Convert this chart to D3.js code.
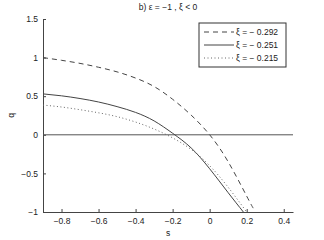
<!DOCTYPE html>
<html lang="en">
<head>
    <meta charset="UTF-8">
    <title>b) ε = −1 , ξ &lt; 0</title>
    <script src="https://d3js.org/d3.v7.min.js"></script>
    <style>
        body { margin: 0; background: #fff; font-family: "Liberation Sans", Arial, sans-serif; }
        svg { display: block; }
        .tick text { font-size: 8.5px; fill: #222; }
    </style>
</head>
<body>
    <svg width="324" height="240"></svg>

    <script>
        // series
        const sDashed = [-0.9, -0.8, -0.7, -0.6, -0.5, -0.4, -0.3, -0.2, -0.1, 0, 0.1, 0.2, 0.235];
        const qDashed = [1.0, 0.965, 0.925, 0.875, 0.815, 0.735, 0.625, 0.46, 0.255, 0, -0.35, -0.795, -0.95];

        const sSolid = [-0.9, -0.8, -0.7, -0.6, -0.5, -0.4, -0.3, -0.2, -0.1, 0, 0.1, 0.182];
        const qSolid = [0.53, 0.505, 0.47, 0.425, 0.365, 0.29, 0.18, 0.02, -0.17, -0.44, -0.75, -1.0];

        const sDotted = [-0.9, -0.8, -0.7, -0.6, -0.5, -0.4, -0.3, -0.2, -0.1, 0, 0.1, 0.2];
        const qDotted = [0.385, 0.36, 0.325, 0.285, 0.235, 0.165, 0.075, -0.04, -0.19, -0.40, -0.68, -1.0];

        const legendLabels = ["ξ = − 0.292", "ξ = − 0.251", "ξ = − 0.215"];
        const xTicks = [-0.8, -0.6, -0.4, -0.2, 0, 0.2, 0.4];
        const yTicks = [-1, -0.5, 0, 0.5, 1, 1.5];

        const svg = d3.select("svg"),
              margin = {top: 19, right: 31, bottom: 28, left: 43},
              width = +svg.attr("width") - margin.left - margin.right,
              height = +svg.attr("height") - margin.top - margin.bottom;

        const g = svg.append("g").attr("transform", `translate(${margin.left},${margin.top})`);

        const x = d3.scaleLinear().domain([-0.9, 0.45]).range([0, width]);
        const y = d3.scaleLinear().domain([-1, 1.5]).range([height, 0]);

        const fmt = d => (d < 0 ? "\u2212" : "") + d3.format("~g")(Math.abs(d));

        // axes, matlab style ticks pointing inwards
        const xAxis = g.append("g")
            .attr("transform", `translate(0,${height})`)
            .call(d3.axisBottom(x).tickValues(xTicks).tickFormat(fmt).tickSizeInner(-3).tickSizeOuter(0).tickPadding(6));
        const yAxis = g.append("g")
            .call(d3.axisLeft(y).tickValues(yTicks).tickFormat(fmt).tickSizeInner(-3).tickSizeOuter(0).tickPadding(5));
        [xAxis, yAxis].forEach(a => {
            a.select(".domain").attr("stroke", "#444");
            a.selectAll(".tick line").attr("stroke", "#444");
            a.selectAll(".tick text").attr("font-family", "Liberation Sans, Arial, sans-serif");
        });

        // zero line
        g.append("line")
            .attr("x1", 0).attr("x2", width)
            .attr("y1", y(0)).attr("y2", y(0))
            .attr("stroke", "#555").attr("stroke-width", 1);

        const line = d3.line().x(d => x(d[0])).y(d => y(d[1])).curve(d3.curveNatural);

        const series = [
            {s: sDashed, q: qDashed, dash: "5,4", color: "#444", w: 1},
            {s: sSolid, q: qSolid, dash: null, color: "#444", w: 1},
            {s: sDotted, q: qDotted, dash: "1,2.5", color: "#666", w: 1}
        ];

        series.forEach(d => {
            g.append("path")
                .datum(d3.zip(d.s, d.q))
                .attr("fill", "none")
                .attr("stroke", d.color)
                .attr("stroke-width", d.w)
                .attr("stroke-dasharray", d.dash)
                .attr("d", line);
        });

        // legend
        const leg = svg.append("g").attr("transform", "translate(199,23)");
        leg.append("rect")
            .attr("width", 87).attr("height", 44)
            .attr("fill", "#fff").attr("stroke", "#333").attr("stroke-width", 1);
        legendLabels.forEach((t, i) => {
            const yy = 9 + i * 13;
            leg.append("line")
                .attr("x1", 5).attr("x2", 35).attr("y1", yy).attr("y2", yy)
                .attr("stroke", series[i].color).attr("stroke-width", 1)
                .attr("stroke-dasharray", series[i].dash);
            leg.append("text")
                .attr("x", 37).attr("y", yy).attr("dy", "0.35em")
                .attr("font-size", "8.5px").attr("fill", "#222")
                .text(t);
        });

        // titles
        svg.append("text")
            .attr("x", margin.left + width / 2).attr("y", 10)
            .attr("text-anchor", "middle").attr("font-size", "8.5px").attr("fill", "#222")
            .text("b) ε = −1 , ξ < 0");
        svg.append("text")
            .attr("x", margin.left + width / 2).attr("y", 236)
            .attr("text-anchor", "middle").attr("font-size", "8.5px").attr("fill", "#222")
            .text("s");
        svg.append("text")
            .attr("transform", `translate(14,${margin.top + height / 2}) rotate(-90)`)
            .attr("text-anchor", "middle").attr("font-size", "8.5px").attr("fill", "#222")
            .text("q");
    </script>
</body>
</html>
